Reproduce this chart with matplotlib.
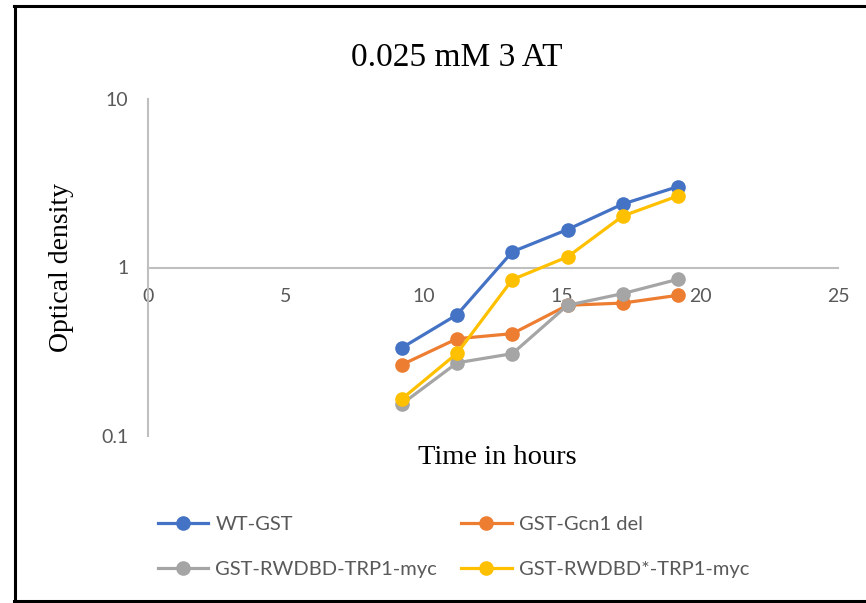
import matplotlib

matplotlib.use("Agg")
import matplotlib.pyplot as plt
from matplotlib.lines import Line2D
from matplotlib.ticker import FixedLocator, NullLocator

# ---------------------------------------------------------------------------
# Data
# ---------------------------------------------------------------------------

HOURS = [9.2, 11.2, 13.2, 15.2, 17.2, 19.2]

WT_GST = [0.334, 0.525, 1.24, 1.68, 2.38, 3.02]
GCN1_DEL = [0.265, 0.378, 0.405, 0.597, 0.615, 0.684]
RWDBD_TRP1 = [0.155, 0.272, 0.308, 0.597, 0.700, 0.851]
RWDBD_STAR_TRP1 = [0.166, 0.310, 0.848, 1.156, 2.02, 2.66]

SERIES = [
    ("WT-GST", WT_GST, "#4472C4"),
    ("GST-Gcn1 del", GCN1_DEL, "#ED7D31"),
    ("GST-RWDBD-TRP1-myc", RWDBD_TRP1, "#A5A5A5"),
    ("GST-RWDBD*-TRP1-myc", RWDBD_STAR_TRP1, "#FFC000"),
]

X_TICKS = [0, 5, 10, 15, 20, 25]
Y_TICKS = [0.1, 1, 10]
Y_TICK_LABELS = ["0.1", "1", "10"]

TITLE = "0.025 mM 3 AT"
X_LABEL = "Time in hours"
Y_LABEL = "Optical density"

AXIS_GRAY = "#BFBFBF"
TEXT_GRAY = "#595959"
SANS = ["Lato", "DejaVu Sans"]
SERIF = ["Liberation Serif", "DejaVu Serif"]

W, H = 866, 603

# ---------------------------------------------------------------------------
# Figure
# ---------------------------------------------------------------------------

fig = plt.figure(figsize=(W / 100, H / 100), dpi=100)
ax = fig.add_axes([148 / W, 1 - 436 / H, (838 - 148) / W, (436 - 99) / H])

ax.set_yscale("log")
ax.set_xlim(0, 25)
ax.set_ylim(0.1, 10)

lines = []
for label, values, color in SERIES:
    (ln,) = ax.plot(HOURS, values, "-o", color=color, linewidth=2.3, markersize=9.5,
                    label=label, clip_on=False)
    lines.append(ln)

# Excel-style axes: x axis crosses at y = 1
for side in ("top", "right"):
    ax.spines[side].set_visible(False)
ax.spines["left"].set_color(AXIS_GRAY)
ax.spines["left"].set_linewidth(1.5)
ax.spines["bottom"].set_position(("data", 1))
ax.spines["bottom"].set_color(AXIS_GRAY)
ax.spines["bottom"].set_linewidth(1.5)
ax.spines["bottom"].set_zorder(0)

ax.xaxis.set_major_locator(FixedLocator(X_TICKS))
ax.yaxis.set_major_locator(FixedLocator(Y_TICKS))
ax.yaxis.set_minor_locator(NullLocator())
ax.set_yticklabels(Y_TICK_LABELS)
ax.tick_params(axis="both", length=0, labelsize=14, labelcolor=TEXT_GRAY)
ax.tick_params(axis="x", pad=15)
ax.tick_params(axis="y", pad=14)
for t in ax.get_xticklabels() + ax.get_yticklabels():
    t.set_fontfamily(SANS)

fig.text(457 / W, 1 - 58 / H, TITLE, ha="center", va="center",
         fontsize=24, family=SERIF, color="black")
fig.text(497 / W, 1 - 458 / H, X_LABEL, ha="center", va="center",
         fontsize=20.5, family=SERIF, color="black")
fig.text(61 / W, 1 - 267 / H, Y_LABEL, ha="center", va="center", rotation=90,
         fontsize=20, family=SERIF, color="black")

# legend fills row-wise in the reference: reorder for matplotlib's column fill
order = [0, 2, 1, 3]
leg = fig.legend([lines[i] for i in order], [SERIES[i][0] for i in order],
                 loc="upper left", bbox_to_anchor=(158 / W, 1 - 516 / H), ncol=2,
                 frameon=False, prop={"family": SANS, "size": 14.5},
                 handlelength=2.5, handletextpad=0.35, columnspacing=1.2,
                 labelspacing=1.38, borderpad=0, borderaxespad=0)
for t in leg.get_texts():
    t.set_color(TEXT_GRAY)

# black frame around the chart (left, top, bottom)
frame = dict(color="black", linewidth=2.2, transform=fig.transFigure)
fig.add_artist(Line2D([14.5 / W, 14.5 / W], [1 - 6 / H, 1 - 601 / H], **frame))
fig.add_artist(Line2D([13.5 / W, 1], [1 - 6 / H, 1 - 6 / H], **frame))
fig.add_artist(Line2D([13.5 / W, 1], [1 - 601 / H, 1 - 601 / H], **frame))

fig.savefig("out.png", dpi=100, facecolor="white")
